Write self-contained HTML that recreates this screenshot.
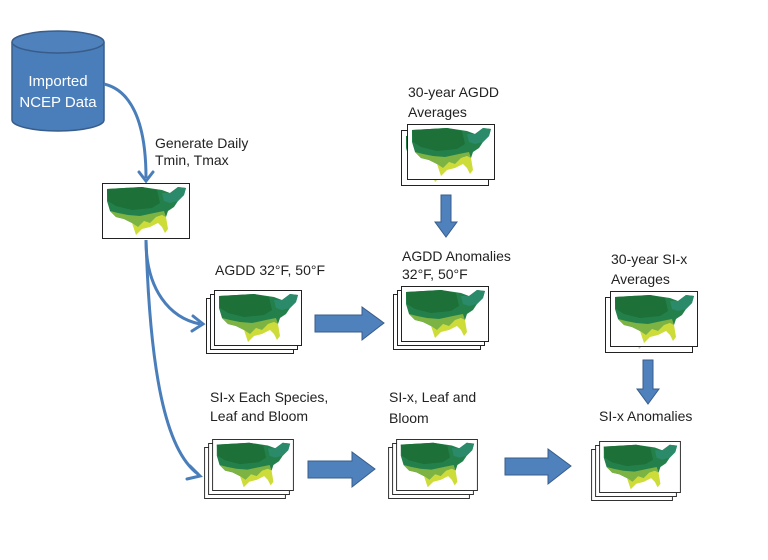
<!DOCTYPE html>
<html><head><meta charset="utf-8"><style>
html,body{margin:0;padding:0;background:#fff;}
svg{display:block;}
text{font-family:"Liberation Sans",sans-serif;font-size:14px;fill:#222;}
</style></head><body>
<svg width="768" height="560" viewBox="0 0 768 560" xmlns="http://www.w3.org/2000/svg">
<defs>
<symbol id="map" viewBox="0 0 88 56">
<rect x="0.5" y="0.5" width="87" height="55" fill="#fff" stroke="#222" stroke-width="1"/>
<path d="M5,6 L40,4 L60,7 L68,10 L76,4 L84,5 L82,12 L76,18 L72,24 L66,28 L64,34 L60,32 L54,34 L48,40 L42,38 L36,44 L30,40 L22,36 L14,34 L8,28 L5,18 Z" fill="#24804a"/>
<path d="M5,6 L40,4 L55,7 L58,20 L50,25 L30,27 L14,23 L6,18 Z" fill="#1c7038"/>
<path d="M60,10 L68,10 L76,4 L84,5 L82,12 L76,18 L68,20 L62,18 Z" fill="#2a8a6a"/>
<path d="M8,28 L16,30 L26,32 L38,33 L52,30 L62,28 L64,34 L60,32 L54,34 L48,40 L42,38 L36,44 L30,40 L22,36 L14,34 Z" fill="#7cb342"/>
<path d="M30,40 L36,44 L42,38 L48,40 L54,34 L60,32 L64,34 L66,46 L63,50 L60,44 L56,40 L48,44 L40,46 L34,52 Z" fill="#cddc39"/>
</symbol>
</defs>

<!-- cylinder -->
<path d="M12,42 L12,120 A46,11 0 0 0 104,120 L104,42" fill="#4a7ebb" stroke="#385d8a" stroke-width="1.5"/>
<ellipse cx="58" cy="42" rx="46" ry="11" fill="#4f81bd" stroke="#385d8a" stroke-width="1.5"/>
<text x="58" y="86" text-anchor="middle" style="fill:#fff;font-size:15px">Imported</text>
<text x="58" y="107" text-anchor="middle" style="fill:#fff;font-size:15px">NCEP Data</text>

<!-- connectors -->
<g fill="none" stroke="#4a7ebb" stroke-width="3">
<path d="M104,84 C130,90 146,120 146,178"/>
<path d="M146,240 C146,290 170,318 200,324"/>
<path d="M146,240 C150,370 165,450 198,474"/>
</g>
<g fill="none" stroke="#4a7ebb" stroke-width="3" stroke-linecap="round">
<path d="M139,172 L146,181 L153,172"/>
<path d="M193,316 L203,324 L192,331"/>
<path d="M190,466 L200,476 L187,479"/>
</g>

<!-- single card -->
<use href="#map" x="102" y="183" width="88" height="56"/>

<!-- stacks -->
<use href="#map" x="206" y="298" width="88" height="56"/>
<use href="#map" x="210" y="294" width="88" height="56"/>
<use href="#map" x="214" y="290" width="88" height="56"/>

<use href="#map" x="401" y="130" width="88" height="56"/>
<use href="#map" x="407" y="124" width="88" height="56"/>

<use href="#map" x="393" y="294" width="88" height="56"/>
<use href="#map" x="397" y="290" width="88" height="56"/>
<use href="#map" x="401" y="286" width="88" height="56"/>

<use href="#map" x="605" y="297" width="88" height="56"/>
<use href="#map" x="610" y="291" width="88" height="56"/>

<use href="#map" x="201" y="447" width="88" height="52"/>
<use href="#map" x="205" y="443" width="88" height="52"/>
<use href="#map" x="209" y="439" width="88" height="52"/>

<use href="#map" x="385" y="447" width="88" height="52"/>
<use href="#map" x="389" y="443" width="88" height="52"/>
<use href="#map" x="393" y="439" width="88" height="52"/>

<use href="#map" x="588" y="449" width="88" height="52"/>
<use href="#map" x="592" y="445" width="88" height="52"/>
<use href="#map" x="596" y="441" width="88" height="52"/>

<!-- block arrows -->
<g fill="#4f81bd" stroke="#385d8a" stroke-width="1">
<path d="M315,315 L362,315 L362,307 L384,323 L362,340 L362,332 L315,332 Z"/>
<path d="M308,461 L352,461 L352,452 L375,469 L352,487 L352,478 L308,478 Z"/>
<path d="M505,458 L548,458 L548,449 L571,466 L548,484 L548,475 L505,475 Z"/>
<path d="M441,195 L451,195 L451,222 L457,222 L446,237 L435,222 L441,222 Z"/>
<path d="M643,360 L653,360 L653,389 L659,389 L648,404 L637,389 L643,389 Z"/>
</g>

<!-- labels -->
<text x="155" y="148">Generate Daily</text>
<text x="155" y="165">Tmin, Tmax</text>
<text x="408" y="97">30-year AGDD</text>
<text x="408" y="117">Averages</text>
<text x="215" y="275">AGDD 32°F, 50°F</text>
<text x="402" y="261">AGDD Anomalies</text>
<text x="402" y="279">32°F, 50°F</text>
<text x="611" y="264">30-year SI-x</text>
<text x="611" y="284">Averages</text>
<text x="210" y="402">SI-x Each Species,</text>
<text x="210" y="421">Leaf and Bloom</text>
<text x="389" y="402">SI-x, Leaf and</text>
<text x="389" y="423">Bloom</text>
<text x="599" y="421">SI-x Anomalies</text>
</svg>
</body></html>
